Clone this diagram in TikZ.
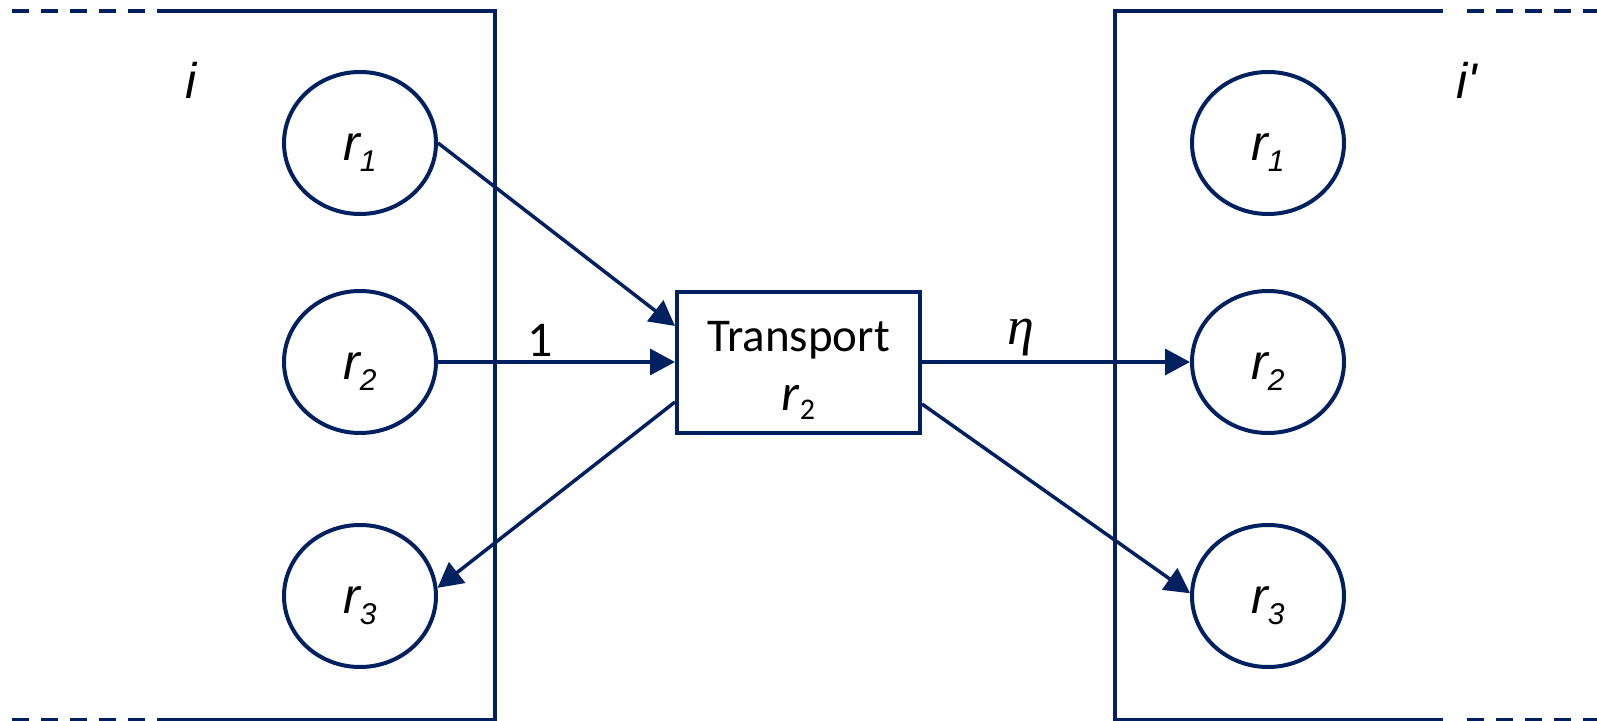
\documentclass[tikz,border=0pt]{standalone}
\usepackage{fontspec}
\newfontfamily\arial{Liberation Sans}
\newfontfamily\carl{Carlito}
\newfontfamily\tserif{Liberation Serif}
\usetikzlibrary{arrows.meta,shapes.geometric}
\definecolor{navy}{RGB}{0,32,96}

% subscripted resource label in the circles
\newcommand{\reslab}[1]{{\arial\itshape\fontsize{25}{25}\selectfont r\raisebox{-5.5pt}{\fontsize{15}{15}\selectfont #1}}}

\tikzset{
  frame/.style={draw=navy, line width=2pt, line join=miter},
  dashfrm/.style={draw=navy, line width=2pt, dash pattern=on 8.5pt off 6pt},
  res/.style={ellipse, draw=navy, line width=2pt, minimum width=76pt,
    minimum height=71pt, inner sep=0pt, text height=20pt, text depth=2pt},
  tbox/.style={rectangle, draw=navy, line width=2pt, minimum width=121.5pt,
    minimum height=70.5pt, inner sep=0pt, align=center,
    font=\carl\fontsize{23.5}{29.5}\selectfont},
  arr/.style={draw=navy, line width=1.75pt, -{Triangle[length=12.5pt,width=13pt]}},
  zonelab/.style={font=\arial\itshape\fontsize{25}{25}\selectfont, inner sep=0pt}
}

\begin{document}
\begin{tikzpicture}[x=0.5pt,y=-0.5pt]
\useasboundingbox (0,0) rectangle (1597,721);

% zone frames
\draw[frame] (158,11) -- (495,11) -- (495,720) -- (158,720);
\draw[dashfrm] (12,11) -- (158,11);
\draw[dashfrm] (12,720) -- (158,720);
\draw[frame] (1443,11) -- (1115,11) -- (1115,720) -- (1443,720);
\draw[dashfrm] (1467,11) -- (1597,11);
\draw[dashfrm] (1467,720) -- (1597,720);

% zone labels
\node[zonelab] (zi) at (191,80) {i};
\node[zonelab] (zip) at (1467,80) {i'};

% resources
\node[res] (a1) at (360,143) {\reslab{1}};
\node[res] (a2) at (360,362) {\reslab{2}};
\node[res] (a3) at (360,596) {\reslab{3}};
\node[res] (b1) at (1268,143) {\reslab{1}};
\node[res] (b2) at (1268,362) {\reslab{2}};
\node[res] (b3) at (1268,596) {\reslab{3}};

% transport process
\node[tbox] (box) at (798.5,362.5) {\rule{0pt}{23pt}Transport\\
  {\fontsize{26}{26}\selectfont\itshape r}\raisebox{-4.5pt}{\fontsize{15}{15}\selectfont 2}};

% flows
\draw[arr] (a1.east) -- ([yshift=18.25pt]box.west);
\draw[arr] (a2.east) -- node[pos=0.43, above=2pt, inner sep=0pt,
  font=\carl\fontsize{25}{25}\selectfont] {1} (a2.east -| box.west);
\draw[arr] ([yshift=-19.75pt]box.west) -- (a3.6);
\draw[arr] (box.east |- b2.west) -- node[pos=0.37, above=2pt, inner sep=0pt,
  font=\tserif\itshape\fontsize{27}{27}\selectfont] {η} (b2.west);
\draw[arr] ([yshift=-20.75pt]box.east) -- (b3.178);
\end{tikzpicture}
\end{document}
